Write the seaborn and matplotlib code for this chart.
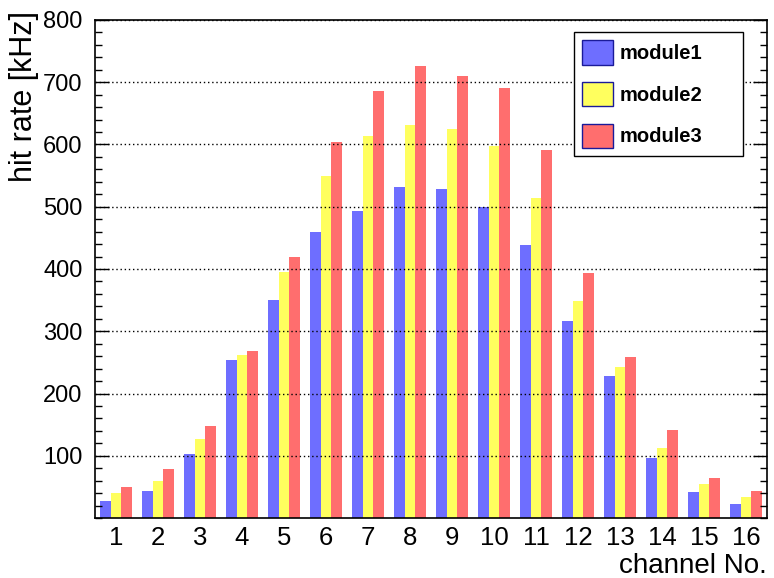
import numpy as np
import pandas as pd
import matplotlib
matplotlib.use("Agg")
import matplotlib.pyplot as plt
from matplotlib.patches import Patch
from matplotlib.ticker import MultipleLocator
import seaborn as sns

channels = [str(i) for i in range(1, 17)]
module1 = [28, 43, 103, 254, 351, 460, 493, 531, 528, 499, 438, 316, 228, 96, 41, 23]
module2 = [40, 60, 127, 262, 395, 549, 614, 631, 625, 597, 514, 348, 242, 113, 55, 33]
module3 = [49, 78, 148, 268, 419, 604, 686, 726, 710, 691, 591, 394, 258, 141, 65, 43]
modules = ["module1", "module2", "module3"]
yticks = [100, 200, 300, 400, 500, 600, 700, 800]

colors = {"module1": "#6e6eff", "module2": "#ffff5e", "module3": "#ff6e6e"}

df = pd.DataFrame({
    "channel": channels * 3,
    "rate": module1 + module2 + module3,
    "module": [m for m in modules for _ in channels],
})

sns.set_style("white")
plt.rcParams["font.family"] = ["Liberation Sans", "DejaVu Sans"]
plt.rcParams.update({"text.color": "black", "axes.labelcolor": "black",
                     "xtick.color": "black", "ytick.color": "black"})

fig = plt.figure(figsize=(7.74, 5.78), dpi=100)
ax = fig.add_axes([95 / 774, 1 - 518 / 578, 672 / 774, 498 / 578])

sns.barplot(data=df, x="channel", y="rate", hue="module", palette=colors,
            width=0.76, saturation=1, ax=ax, legend=False,
            edgecolor="none", linewidth=0)

ax.set_xlim(-0.5, 15.5)
ax.set_ylim(0, 800)

ax.set_yticks(yticks)
ax.yaxis.set_minor_locator(MultipleLocator(20))
ax.tick_params(axis="y", which="major", direction="in", length=10, width=1,
               right=True, left=True, labelsize=17, pad=9)
ax.tick_params(axis="y", which="minor", direction="in", length=5, width=1,
               right=True, left=True)
ax.tick_params(axis="x", length=0, labelsize=18.5, pad=6)

ax.yaxis.grid(True, which="major", linestyle=(0, (1, 2)), color="black", linewidth=1)
ax.xaxis.grid(False)
ax.set_axisbelow(False)
for sp in ax.spines.values():
    sp.set_visible(True)
    sp.set_color("black")
    sp.set_linewidth(1.2)

ax.set_xlabel("channel No.", fontsize=20, loc="right")
ax.xaxis.set_label_coords(1.0, -0.071)
ax.set_ylabel("hit rate [kHz]", fontsize=22, loc="top")
ax.yaxis.set_label_coords(-0.084, 1.018)

handles = [Patch(facecolor=colors[m], edgecolor="#1a1a99", linewidth=1, label=m) for m in modules]
leg = ax.legend(handles=handles, loc="upper left",
                bbox_to_anchor=(0.7128, 0.7229, 0.2515, 0.253), mode="expand",
                borderaxespad=0, fancybox=False, framealpha=1, edgecolor="black",
                prop={"size": 14.5, "weight": "bold"}, handlelength=1.54, handleheight=1.49,
                handletextpad=0.3, labelspacing=0.85, borderpad=0.42)
leg.get_frame().set_linewidth(1)

fig.savefig("out.png", dpi=100)
